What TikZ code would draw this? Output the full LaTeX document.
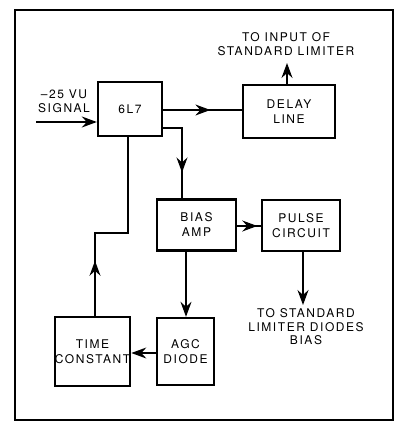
\documentclass[tikz,border=0pt]{standalone}
\usepackage{fontspec}
\setmainfont[LetterSpace=13]{TeX Gyre Heros}
\usetikzlibrary{arrows.meta, positioning, calc, decorations.markings}
\tikzset{
    blk/.style={
        rectangle, draw=black, line width=2.4pt,
        inner sep=0pt, align=center, font=\fontsize{12}{15}\selectfont
    },
    sig_line/.style={
        draw=black, line width=1.2pt
    },
    sig_arrow/.style={
        sig_line, -{Stealth[length=15pt, width=11pt, inset=5pt]}
    },
    mid_arrow/.style={
        sig_line, postaction={decorate},
        decoration={markings, mark=at position #1 with {\arrow{Stealth[length=15pt, width=11pt, inset=5pt]}}}
    },
    lbl/.style={
        inner sep=0pt, align=center, font=\fontsize{12}{13.5}\selectfont
    }
}

\begin{document}
\begin{tikzpicture}[x=1pt, y=-1pt]

    \useasboundingbox (0, 0) rectangle (395, 422);
    \draw[line width=2.4pt] (15, 10) rectangle (393, 420);

    \node[blk, minimum width=64pt, minimum height=54pt] (tube) at (130, 109) {6L7};
    \node[blk, minimum width=92pt, minimum height=53pt] (delay) at (289, 111.5) {DELAY\\LINE};
    \node[blk, minimum width=79pt, minimum height=51pt] (biasamp) at (196.5, 225) {BIAS\\AMP};
    \node[blk, minimum width=78pt, minimum height=51pt] (pulse) at (301, 225.5) {PULSE\\CIRCUIT};
    \node[blk, minimum width=57pt, minimum height=67pt] (agc) at (185.5, 351.5) {AGC\\DIODE};
    \node[blk, minimum width=75pt, minimum height=69pt] (tconst) at (92.5, 351.5) {\\[-6pt]TIME\\CONSTANT};

    \node[lbl] (inlabel) at (64, 101) {--25 VU\\SIGNAL};
    \node[lbl] (outlabel) at (286, 44) {TO INPUT OF\\STANDARD LIMITER};
    \node[lbl] (biaslabel) at (306, 327) {TO STANDARD\\LIMITER DIODES\\BIAS};

    \coordinate (sigin) at (36, 122);
    \coordinate (outend) at (287, 63);
    \coordinate (biasend) at (303, 305);

    \draw[sig_arrow] (sigin) -- (sigin -| tube.west);
    \draw[mid_arrow=0.6] (tube.east |- 0, 110) -- (delay.west |- 0, 110);
    \draw[mid_arrow=0.71] (tube.east |- 0, 128) -- (182, 128) -- (biasamp.north -| 182, 0);
    \draw[sig_arrow] (delay.north -| outend) -- (outend);
    \draw[mid_arrow=0.85] (biasamp.east |- 0, 226) -- (pulse.west |- 0, 226);
    \draw[sig_arrow] (pulse.south -| biasend) -- (biasend);
    \draw[sig_arrow] (biasamp.south -| 186, 0) -- (agc.north -| 186, 0);
    \draw[sig_arrow] (agc.west |- 0, 353) -- (tconst.east |- 0, 353);
    \draw[mid_arrow=0.26] (tconst.north -| 95, 0) -- (95, 233) -- (128, 233) -- (tube.south -| 128, 0);

\end{tikzpicture}
\end{document}
